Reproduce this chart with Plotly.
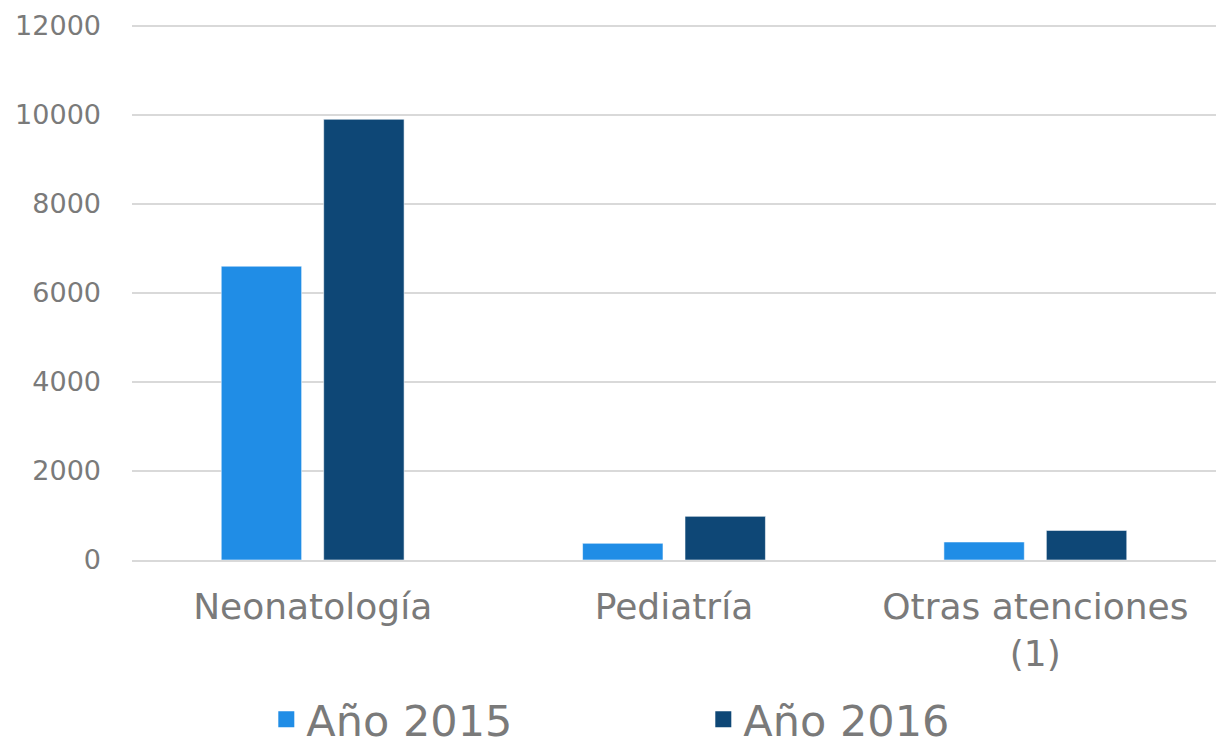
import plotly.graph_objects as go

categories = ["Neonatología", "Pediatría", "Otras atenciones<br>(1)"]
series_names = ["Año 2015", "Año 2016"]
values_2015 = [6600, 375, 405]
values_2016 = [9900, 980, 665]
colors = ["#208DE6", "#0E4776"]
y_ticks = [0, 2000, 4000, 6000, 8000, 10000, 12000]

FONT = "DejaVu Sans"
GREY = "#7A7A7A"

fig = go.Figure()
for name, vals, col in zip(series_names, [values_2015, values_2016], colors):
    fig.add_trace(go.Bar(
        x=categories, y=vals, name=name,
        marker=dict(color=col, line=dict(color="rgba(255,255,255,0.55)", width=1)),
        showlegend=False,
    ))
    # legend proxy (square marker)
    fig.add_trace(go.Scatter(
        x=[None], y=[None], mode="markers", name=name,
        marker=dict(symbol="square", size=25, color=col),
        showlegend=True,
    ))

fig.update_layout(
    width=1216, height=747,
    margin=dict(l=132, r=0, t=24, b=187),
    plot_bgcolor="white", paper_bgcolor="white",
    barmode="group", bargap=0.433, bargroupgap=0.215,
    font=dict(family=FONT, color=GREY),
    legend=dict(
        orientation="h", xref="container", yref="container",
        x=0.219, xanchor="left", y=0.037, yanchor="middle",
        font=dict(size=43, color=GREY, family=FONT),
        entrywidth=392, entrywidthmode="pixels",
        itemclick=False,
    ),
    showlegend=True,
)
fig.update_yaxes(
    range=[0, 12040], tickvals=y_ticks, ticktext=[str(v) for v in y_ticks],
    showgrid=True, gridcolor="#D9D9D9", gridwidth=1.8,
    zeroline=False, showline=False, ticks="",
    tickfont=dict(size=27, color=GREY, family=FONT),
    ticklabelstandoff=30,
)
fig.update_xaxes(
    showline=True, linecolor="#D9D9D9", linewidth=1.8,
    ticks="", showgrid=False,
    tickfont=dict(size=36, color=GREY, family=FONT),
    ticklabelstandoff=14,
)

fig.write_html(
    "out.html",
    config={"displayModeBar": False},
    post_script="document.body.style.margin='0';document.body.style.overflow='hidden';",
)
